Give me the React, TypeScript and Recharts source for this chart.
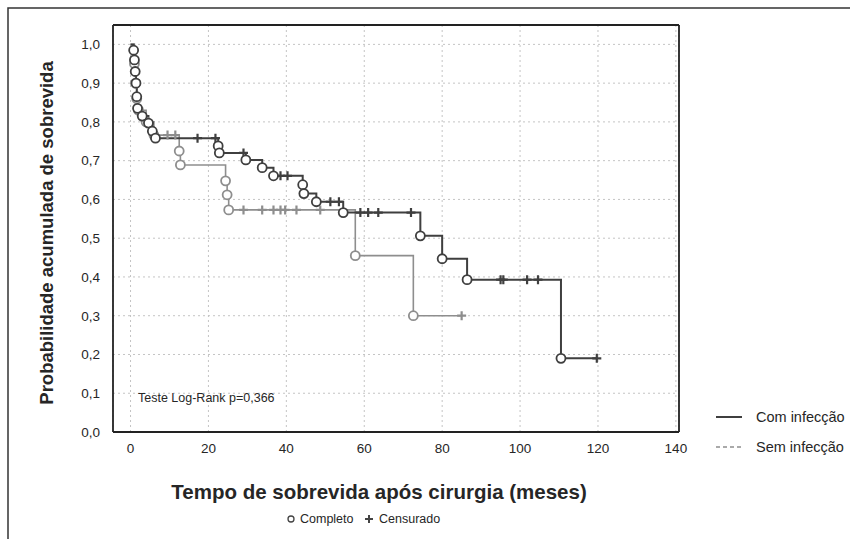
import React from 'react';
import { ComposedChart, Line, Scatter, XAxis, YAxis, CartesianGrid } from 'recharts';

const W = 850;
const H = 539;
const FONT = '"Liberation Sans", Arial, sans-serif';

// Com infecção: deaths as [month, survival after the drop]
const comEvents: [number, number][] = [
  [0.8, 0.985], [1.0, 0.96], [1.2, 0.93], [1.4, 0.9], [1.6, 0.865], [1.8, 0.835],
  [3.0, 0.815], [4.6, 0.797], [5.6, 0.776], [6.4, 0.758], [22.5, 0.738], [22.8, 0.72],
  [29.6, 0.702], [33.8, 0.682], [36.7, 0.661], [44.2, 0.638], [44.5, 0.615], [47.7, 0.594],
  [54.6, 0.566], [74.4, 0.506], [80.0, 0.447], [86.4, 0.393], [110.5, 0.19],
];
// Com infecção: censored months
const comCensored = [17.2, 21.8, 29.0, 38.5, 40.3, 51.3, 53.5, 59.0, 61.0, 63.6, 72.0, 95.0, 95.7, 101.8, 104.6, 119.7];

// Sem infecção
const semEvents: [number, number][] = [
  [1.0, 0.95], [1.3, 0.9], [1.6, 0.86], [2.0, 0.83], [4.0, 0.8], [6.0, 0.766],
  [12.5, 0.725], [12.8, 0.689], [24.4, 0.648], [24.8, 0.612], [25.2, 0.573],
  [57.7, 0.455], [72.6, 0.3],
];
const semCensored = [9.5, 11.5, 29.0, 33.8, 36.7, 38.5, 39.7, 42.6, 48.7, 85.0];

const xTicks = [0, 20, 40, 60, 80, 100, 120, 140];
const yTicks = [0, 0.1, 0.2, 0.3, 0.4, 0.5, 0.6, 0.7, 0.8, 0.9, 1.0];
const X_DOMAIN: [number, number] = [-4.5, 140.8];
const Y_DOMAIN: [number, number] = [0, 1.05];

// minor ticks, 5 per major step
const xMinor: number[] = [];
for (let v = 0; v <= 140; v += 4) xMinor.push(v);
const yMinor: number[] = [];
for (let i = 0; i <= 52; i++) yMinor.push(+(i * 0.02).toFixed(2));

const DARK = '#3f3f3f';
const LIGHT = '#8e8e8e';
const TEXT = '#262626';

function survivalAt(events: [number, number][], t: number) {
  let s = 1;
  for (const [et, es] of events) if (et <= t) s = es;
  return s;
}

function buildSeries(events: [number, number][], censored: number[]) {
  const ev = events.map(([t, s]) => ({ t, s }));
  const ce = censored.map((t) => ({ t, s: survivalAt(events, t) }));
  const line = [{ t: 0, s: 1 }, ...ev, ...ce].sort((a, b) => a.t - b.t);
  return { ev, ce, line };
}

const com = buildSeries(comEvents, comCensored);
const sem = buildSeries(semEvents, semCensored);

const ring = (color: string) => (p: any) => (
  <circle cx={p.cx} cy={p.cy} r={4.5} fill="#fff" stroke={color} strokeWidth={1.8} />
);
const cross = (color: string) => (p: any) => (
  <path d={`M${p.cx - 4.5},${p.cy}H${p.cx + 4.5}M${p.cx},${p.cy - 4.5}V${p.cy + 4.5}`} stroke={color} strokeWidth={2.2} />
);

const fmt = (v: number) => v.toFixed(1).replace('.', ',');

export default function App() {
  return (
    <div style={{ position: 'absolute', left: 0, top: 0, width: W, height: H, overflow: 'hidden', background: '#fff', fontFamily: FONT }}>
      <div style={{ position: 'absolute', left: 0, top: 0 }}>
        <ComposedChart width={W} height={H} margin={{ top: 25, right: 171, bottom: 77, left: 63 }}>
          <CartesianGrid stroke="#c4c4c4" strokeDasharray="2 3" />
          <XAxis
            type="number" dataKey="t" domain={X_DOMAIN} ticks={xTicks} allowDataOverflow
            height={30} tickLine={false} tickSize={6} tickMargin={5}
            axisLine={{ stroke: '#222', strokeWidth: 1.8 }}
            tick={{ fill: TEXT, fontSize: 13.5, fontFamily: FONT }}
          />
          <YAxis
            type="number" dataKey="s" domain={Y_DOMAIN} ticks={yTicks} allowDataOverflow
            width={50} tickLine={false} tickSize={6} tickMargin={7} tickFormatter={fmt}
            axisLine={{ stroke: '#222', strokeWidth: 1.8 }}
            tick={{ fill: TEXT, fontSize: 13.5, fontFamily: FONT }}
          />
          <XAxis xAxisId="xb" type="number" domain={X_DOMAIN} ticks={xMinor} allowDataOverflow mirror
            orientation="bottom" tick={false} axisLine={false} tickSize={3} tickLine={{ stroke: '#222' }} />
          <XAxis xAxisId="xt" type="number" domain={X_DOMAIN} ticks={xMinor} allowDataOverflow mirror
            orientation="top" tick={false} axisLine={{ stroke: '#222', strokeWidth: 1.8 }} tickSize={3} tickLine={{ stroke: '#222' }} />
          <YAxis yAxisId="yl" type="number" domain={Y_DOMAIN} ticks={yMinor} allowDataOverflow mirror
            orientation="left" tick={false} axisLine={false} tickSize={3} tickLine={{ stroke: '#222' }} />
          <YAxis yAxisId="yr" type="number" domain={Y_DOMAIN} ticks={yMinor} allowDataOverflow mirror
            orientation="right" tick={false} axisLine={{ stroke: '#222', strokeWidth: 1.8 }} tickSize={3} tickLine={{ stroke: '#222' }} />

          <Line data={sem.line} dataKey="s" type="stepAfter" stroke={LIGHT} strokeWidth={1.6} dot={false} isAnimationActive={false} />
          <Line data={com.line} dataKey="s" type="stepAfter" stroke={DARK} strokeWidth={2} dot={false} isAnimationActive={false} />
          <Scatter data={sem.ce} dataKey="s" shape={cross(LIGHT)} isAnimationActive={false} />
          <Scatter data={sem.ev} dataKey="s" shape={ring(LIGHT)} isAnimationActive={false} />
          <Scatter data={com.ce} dataKey="s" shape={cross(DARK)} isAnimationActive={false} />
          <Scatter data={com.ev} dataKey="s" shape={ring(DARK)} isAnimationActive={false} />
        </ComposedChart>
      </div>

      <svg width={W} height={H} style={{ position: 'absolute', left: 0, top: 0, pointerEvents: 'none' }} fontFamily={FONT}>
        <path d={`M8,${H}V8H${W}`} fill="none" stroke="#333" strokeWidth={1.5} />
        <text x={46} y={233} transform="rotate(-90 46 233)" textAnchor="middle" dominantBaseline="central"
          fontSize={18.5} fontWeight="bold" fill={TEXT}>Probabilidade acumulada de sobrevida</text>
        <text x={379} y={491} textAnchor="middle" dominantBaseline="central" fontSize={20.5} fontWeight="bold" fill={TEXT}>
          Tempo de sobrevida após cirurgia (meses)
        </text>
        <text x={138} y={398} dominantBaseline="central" fontSize={12.5} fill={TEXT}>Teste Log-Rank p=0,366</text>

        <circle cx={291} cy={519} r={3} fill="#fff" stroke="#444" strokeWidth={1.3} />
        <text x={300} y={519} dominantBaseline="central" fontSize={12.5} fill={TEXT}>Completo</text>
        <path d="M365,519H373M369,515V523" stroke="#444" strokeWidth={2} />
        <text x={379} y={519} dominantBaseline="central" fontSize={12.5} fill={TEXT}>Censurado</text>

        <line x1={716} y1={417} x2={742} y2={417} stroke={DARK} strokeWidth={2} />
        <text x={756} y={417} dominantBaseline="central" fontSize={14.5} fill={TEXT}>Com infecção</text>
        <line x1={716} y1={447} x2={742} y2={447} stroke={LIGHT} strokeWidth={1.5} strokeDasharray="4 3" />
        <text x={756} y={447} dominantBaseline="central" fontSize={14.5} fill={TEXT}>Sem infecção</text>
      </svg>
    </div>
  );
}
